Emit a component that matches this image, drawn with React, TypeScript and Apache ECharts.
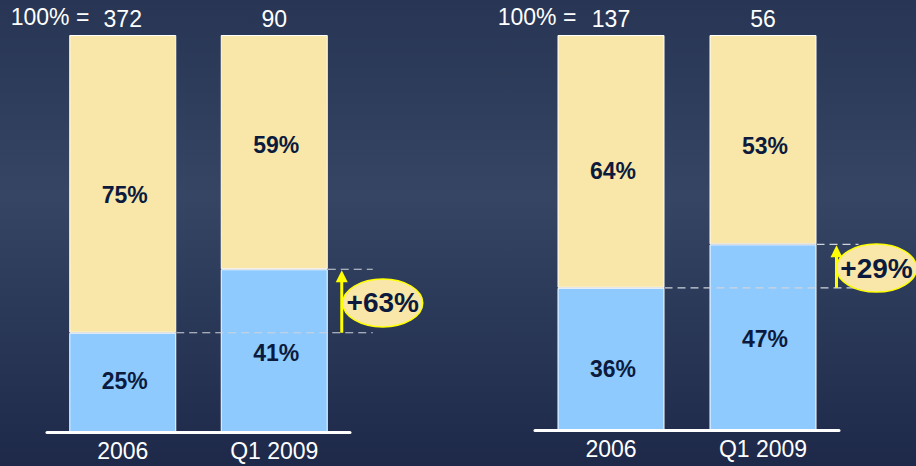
import React, { useEffect, useRef } from "react";
import * as echarts from "echarts";

const categories = ["2006", "Q1 2009"];
const leftBlue = [25, 41];
const leftYellow = [75, 59];
const leftTotals = ["372", "90"];
const leftChange = "+63%";
const rightBlue = [36, 47];
const rightYellow = [64, 53];
const rightTotals = ["137", "56"];
const rightChange = "+29%";
const totalPrefix = "100% =";

// label nudges (styling only, px)
const leftBlueShift = [-1, 2];
const leftYellowShift = [11, -7];
const rightBlueShift = [10, 2];
const rightYellowShift = [10, 6];

const YELLOW = "#f8e7a9";
const BLUE = "#8ecafe";
const DARK = "#0c1a3d";
const FONT = "Liberation Sans, Arial, sans-serif";
const BAR_W = 107;

export default function App() {
  const ref = useRef<HTMLDivElement>(null);
  useEffect(() => {
    const chart = echarts.init(ref.current!, null, { renderer: "svg" });
    const grids = [
      { left: 47, top: 35, width: 303, height: 397 },
      { left: 535, top: 35, width: 304, height: 395 },
    ];
    const inLabel = {
      show: true,
      position: "inside",
      formatter: "{c}%",
      color: DARK,
      fontSize: 23,
      fontWeight: "bold",
      fontFamily: FONT,
    };
    const withShift = (vals: number[], shift: number[]) =>
      vals.map((v, i) => ({ value: v, label: { offset: [2, shift[i]] } }));
    const mkSeries = (
      gi: number,
      blue: number[],
      yellow: number[],
      totals: string[],
      bShift: number[],
      yShift: number[]
    ) => [
      {
        type: "bar",
        xAxisIndex: gi,
        yAxisIndex: gi,
        stack: "s" + gi,
        data: withShift(blue, bShift),
        barWidth: BAR_W,
        itemStyle: { color: BLUE, borderColor: "#ffffff", borderWidth: 1 },
        label: inLabel,
      },
      {
        type: "bar",
        xAxisIndex: gi,
        yAxisIndex: gi,
        stack: "s" + gi,
        data: withShift(yellow, yShift),
        barWidth: BAR_W,
        itemStyle: { color: YELLOW, borderColor: "#ffffff", borderWidth: 1 },
        label: inLabel,
      },
      {
        type: "bar",
        xAxisIndex: gi,
        yAxisIndex: gi,
        stack: "s" + gi,
        data: totals.map(() => 0),
        barWidth: BAR_W,
        itemStyle: { color: "transparent" },
        label: {
          show: true,
          position: "top",
          distance: 5,
          formatter: (p: any) => totals[p.dataIndex],
          color: "#ffffff",
          fontSize: 23,
          fontFamily: FONT,
        },
      },
    ];
    const xAxisBase = (gi: number) => ({
      type: "category",
      gridIndex: gi,
      data: categories,
      axisLine: { show: true, lineStyle: { color: "#ffffff", width: 3 } },
      axisTick: { show: false },
      axisLabel: { color: "#ffffff", fontSize: 23, fontFamily: FONT, margin: 7 },
    });
    const yAxisBase = (gi: number) => ({
      type: "value",
      gridIndex: gi,
      min: 0,
      max: 100,
      show: false,
      splitLine: { show: false },
    });
    chart.setOption({
      animation: false,
      backgroundColor: new echarts.graphic.LinearGradient(0, 0, 0, 1, [
        { offset: 0, color: "#283554" },
        { offset: 0.42, color: "#354563" },
        { offset: 1, color: "#1e294a" },
      ]),
      grid: grids,
      xAxis: [xAxisBase(0), xAxisBase(1)],
      yAxis: [yAxisBase(0), yAxisBase(1)],
      series: [
        ...mkSeries(0, leftBlue, leftYellow, leftTotals, leftBlueShift, leftYellowShift),
        ...mkSeries(1, rightBlue, rightYellow, rightTotals, rightBlueShift, rightYellowShift),
      ],
    });

    const graphics: any[] = [];
    const addAnnot = (gi: number, blue: number[], change: string, lineEnd: number, arrowDx: number, ellDx: number) => {
      const p0 = chart.convertToPixel({ gridIndex: gi } as any, [categories[0], blue[0]]) as number[];
      const p1 = chart.convertToPixel({ gridIndex: gi } as any, [categories[1], blue[1]]) as number[];
      const r0 = p0[0] + BAR_W / 2;
      const r1 = p1[0] + BAR_W / 2;
      const dash = { stroke: "#d0d4dc", lineWidth: 1.2, lineDash: [8, 5] };
      graphics.push({ type: "line", shape: { x1: r0, y1: p0[1], x2: r1 + lineEnd, y2: p0[1] }, style: dash, z: 10 });
      graphics.push({ type: "line", shape: { x1: r1, y1: p1[1], x2: r1 + lineEnd, y2: p1[1] }, style: dash, z: 10 });
      const ax = r1 + arrowDx;
      graphics.push({ type: "line", shape: { x1: ax, y1: p0[1], x2: ax, y2: p1[1] + 10 }, style: { stroke: "#ffff00", lineWidth: 3 }, z: 11 });
      graphics.push({
        type: "polygon",
        shape: { points: [[ax - 6, p1[1] + 13], [ax + 6, p1[1] + 13], [ax, p1[1] + 1]] },
        style: { fill: "#ffff00" },
        z: 11,
      });
      const cy = (p0[1] + p1[1]) / 2 + 2;
      const cx = r1 + ellDx;
      graphics.push({
        type: "ellipse",
        shape: { cx, cy, rx: 40, ry: 24 },
        style: { fill: YELLOW, stroke: "#ffff00", lineWidth: 1.5 },
        z: 12,
      });
      graphics.push({
        type: "text",
        x: cx,
        y: cy,
        style: { text: change, fill: DARK, font: `bold 28px ${FONT}`, align: "center", verticalAlign: "middle" },
        z: 13,
      });
    };
    addAnnot(0, leftBlue, leftChange, 45, 14, 55);
    addAnnot(1, rightBlue, rightChange, 42, 20, 60);
    const t0 = chart.convertToPixel({ gridIndex: 0 } as any, [categories[0], 100]) as number[];
    graphics.push({
      type: "text",
      x: 50,
      y: t0[1] - 18,
      style: { text: totalPrefix, fill: "#ffffff", font: `23px ${FONT}`, align: "center", verticalAlign: "middle" },
    });
    const t1 = chart.convertToPixel({ gridIndex: 1 } as any, [categories[0], 100]) as number[];
    graphics.push({
      type: "text",
      x: 537,
      y: t1[1] - 18,
      style: { text: totalPrefix, fill: "#ffffff", font: `23px ${FONT}`, align: "center", verticalAlign: "middle" },
    });
    chart.setOption({ graphic: graphics });
    return () => chart.dispose();
  }, []);
  return <div ref={ref} style={{ position: "absolute", left: 0, top: 0, width: 916, height: 466 }} />;
}
